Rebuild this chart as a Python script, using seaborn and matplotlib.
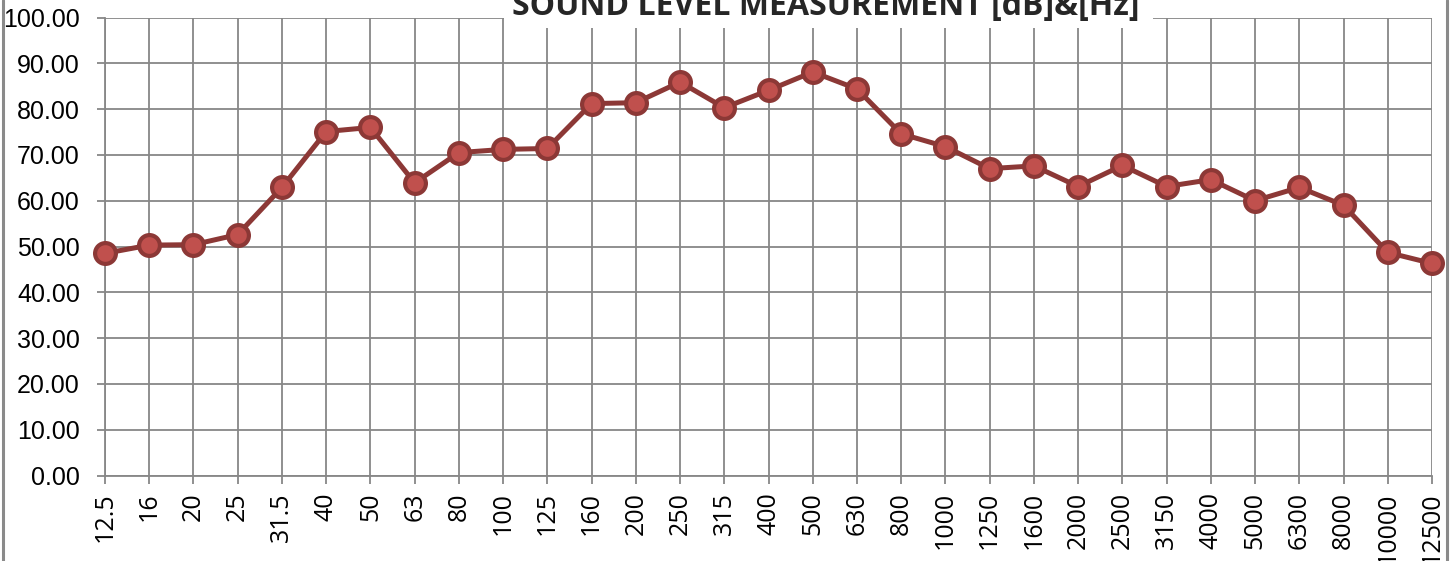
import matplotlib
matplotlib.use("Agg")
import matplotlib.pyplot as plt
import seaborn as sns
import pandas as pd
from matplotlib.patches import Rectangle
from matplotlib.lines import Line2D

# ---- data ----
freq_labels = ["12.5", "16", "20", "25", "31.5", "40", "50", "63", "80", "100",
               "125", "160", "200", "250", "315", "400", "500", "630", "800", "1000",
               "1250", "1600", "2000", "2500", "3150", "4000", "5000", "6300", "8000",
               "10000", "12500"]
levels = [48.5, 50.3, 50.4, 52.6, 62.9, 75.1, 76.0, 63.9, 70.5, 71.2,
          71.4, 81.2, 81.4, 85.9, 80.3, 84.1, 88.1, 84.4, 74.6, 71.8,
          67.0, 67.6, 63.1, 67.7, 63.1, 64.6, 60.0, 62.9, 59.0,
          48.7, 46.3]
y_ticks = [0, 10, 20, 30, 40, 50, 60, 70, 80, 90, 100]
title = "SOUND LEVEL MEASUREMENT [dB]&[Hz]"

df = pd.DataFrame({"pos": list(range(len(freq_labels))), "level": levels})

sns.set_theme(style="white")
plt.rcParams["font.family"] = ["Liberation Sans", "DejaVu Sans"]

W, H = 1456, 561
fig = plt.figure(figsize=(W / 100, H / 100), dpi=100)
ax = fig.add_axes([105 / W, 1 - 475.5 / H, (1432 - 105) / W, (475.5 - 17.5) / H])

grid_c = "#878787"
sns.lineplot(data=df, x="pos", y="level", ax=ax, color="#8C3836", linewidth=3.6,
             marker="o", markersize=15, markerfacecolor="#C0504D",
             markeredgecolor="#8C3836", markeredgewidth=3.0, zorder=5, clip_on=False)

ax.set_xlim(0, len(freq_labels) - 1)
ax.set_ylim(0, 100)
ax.set_xticks(df["pos"])
ax.set_xticklabels(freq_labels, rotation=90, fontsize=18, family=["Open Sans", "DejaVu Sans"])
ax.set_yticks(y_ticks)
ax.set_yticklabels([f"{v:.2f}" for v in y_ticks], fontsize=18)
ax.set_xlabel("")
ax.set_ylabel("")
ax.grid(True, color=grid_c, linewidth=1.3)
ax.set_axisbelow(True)
for s in ["top", "right"]:
    ax.spines[s].set_visible(False)
for s in ["left", "bottom"]:
    ax.spines[s].set_color(grid_c)
    ax.spines[s].set_linewidth(1.3)
ax.tick_params(axis="both", which="major", length=6, width=1.3, color=grid_c,
               direction="out", colors="black")
ax.tick_params(axis="y", pad=12, left=True)
ax.tick_params(axis="x", pad=6, bottom=True)
for t in ax.get_xticklines() + ax.get_yticklines():
    t.set_color(grid_c)

# title with white box covering top of plot
fig.patches.append(Rectangle((503.5 / W, 1 - 28 / H), (1153 - 503.5) / W, 28 / H,
                             transform=fig.transFigure, facecolor="white",
                             edgecolor="none", zorder=10))
fig.text(826 / W, 1 - 15 / H, title, ha="center", va="baseline", fontsize=23,
         fontweight="bold", family=["Open Sans", "DejaVu Sans"], zorder=11)

# chart border lines (left / right)
fig.lines.append(Line2D([2.5 / W, 2.5 / W], [0, 1], transform=fig.transFigure,
                        color="#8a8a8a", linewidth=2.2))
fig.lines.append(Line2D([1447 / W, 1447 / W], [0, 1], transform=fig.transFigure,
                        color="#8a8a8a", linewidth=2.2))

fig.savefig("out.png", dpi=100)
